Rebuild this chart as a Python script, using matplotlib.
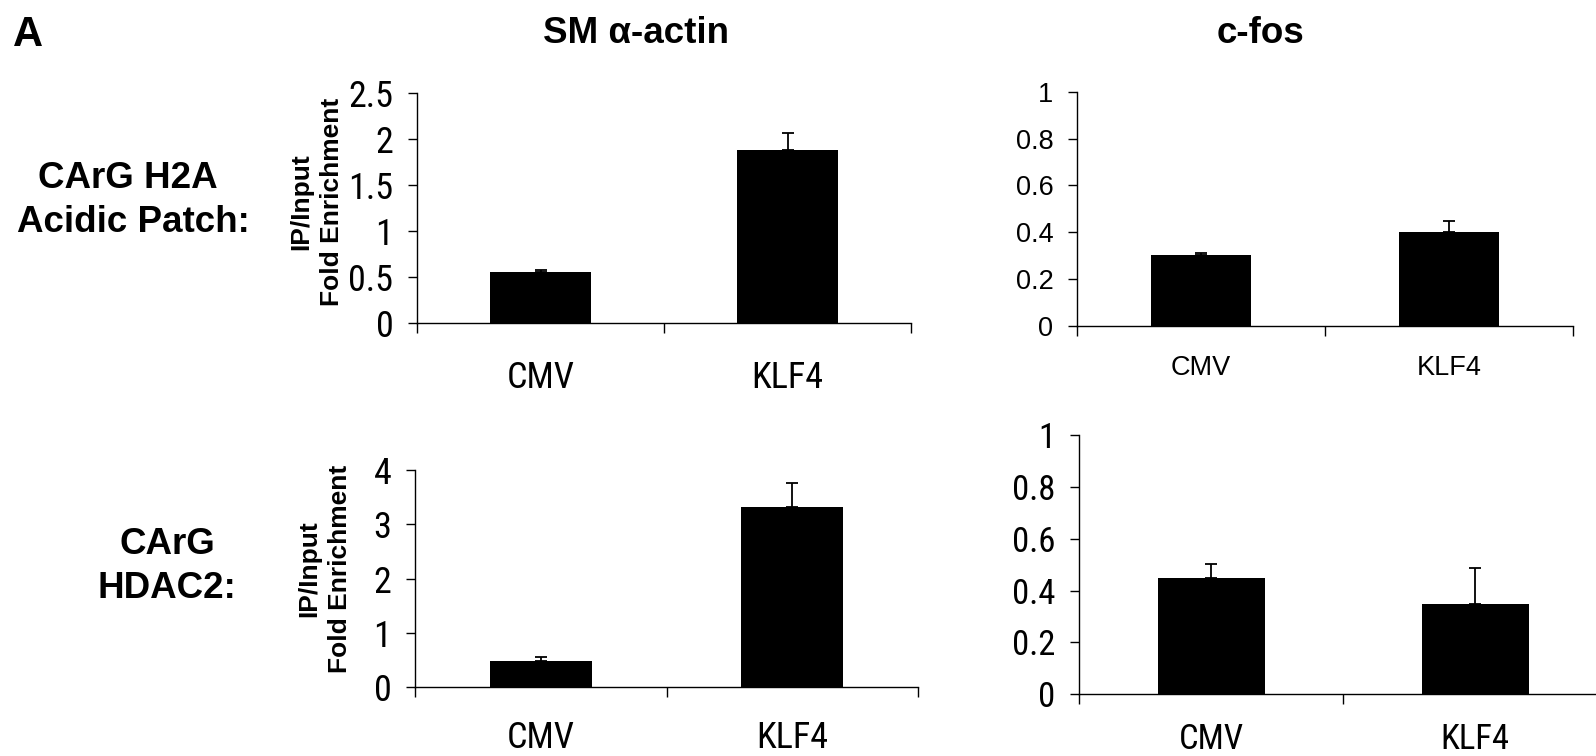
import matplotlib
matplotlib.use("Agg")
import matplotlib.pyplot as plt
from matplotlib import font_manager
import numpy as np

# ---- data -------------------------------------------------------------
groups = ["CMV", "KLF4"]

h2a_sma_mean = [0.55, 1.885]
h2a_sma_err = [0.024, 0.18]
h2a_fos_mean = [0.302, 0.401]
h2a_fos_err = [0.011, 0.048]

hdac2_sma_mean = [0.49, 3.32]
hdac2_sma_err = [0.06, 0.44]
hdac2_fos_mean = [0.447, 0.349]
hdac2_fos_err = [0.054, 0.139]

sma_h2a_ticks = [0, 0.5, 1, 1.5, 2, 2.5]
fos_ticks = [0, 0.2, 0.4, 0.6, 0.8, 1]
sma_hdac2_ticks = [0, 1, 2, 3, 4]

col_titles = ["SM \u03b1-actin", "c-fos"]
row_titles = [["CArG H2A", "Acidic Patch:"], ["CArG", "HDAC2:"]]
ylabel_text = "IP/Input\nFold Enrichment"

# ---- fonts ------------------------------------------------------------
BOLD = ["Liberation Sans", "DejaVu Sans"]
REG = ["Liberation Sans", "DejaVu Sans"]


def find_narrow_family():
    names = sorted({f.name for f in font_manager.fontManager.ttflist})
    for pref in ("Liberation Sans Narrow", "Arial Narrow", "DejaVu Sans Condensed",
                 "Roboto Condensed", "Open Sans Condensed", "Noto Sans Condensed"):
        if pref in names:
            return pref, 1.0
    for n in names:
        low = n.lower()
        if ("narrow" in low or "condensed" in low) and "serif" not in low \
                and "mono" not in low:
            return n, 1.0
    return None, 0.85


_narrow, _narrow_scale = find_narrow_family()
NARROW = ([_narrow] if _narrow else []) + ["Liberation Sans", "DejaVu Sans"]

# ---- figure -----------------------------------------------------------
W, H = 1596, 756
fig = plt.figure(figsize=(W / 100, H / 100), dpi=100)


def axes_px(x0, x1, y0, y1):
    """Create axes from pixel edges (left, right, top, bottom)."""
    return fig.add_axes([x0 / W, 1 - y1 / H, (x1 - x0) / W, (y1 - y0) / H])


def fig_text(x, y, s, **kw):
    fig.text(x / W, 1 - y / H, s, **kw)


def fmt(v):
    return f"{v:g}"


def bar_panel(ax, means, errs, yticks, tick_font, tick_size, xlab_pad):
    x = np.arange(len(groups))
    ax.bar(x, means, width=0.405, color="black", edgecolor="none", zorder=2)
    ax.errorbar(x, means, yerr=[np.zeros(len(errs)), errs], fmt="none",
                ecolor="black", elinewidth=1.3, capsize=4, capthick=1.3,
                zorder=3)
    ax.set_xlim(-0.5, len(groups) - 0.5)
    ax.set_ylim(yticks[0], yticks[-1])
    for side in ("top", "right"):
        ax.spines[side].set_visible(False)
    for side in ("left", "bottom"):
        ax.spines[side].set_linewidth(1.0)
        ax.spines[side].set_color("black")
    ax.set_yticks(yticks)
    ax.set_yticklabels([fmt(t) for t in yticks], family=tick_font,
                       fontsize=tick_size)
    ax.tick_params(axis="y", length=6.5, width=1.0, pad=10.5,
                   direction="out", color="black")
    ax.set_xticks(x)
    ax.set_xticklabels(groups, family=tick_font, fontsize=tick_size)
    ax.set_xticks(np.arange(-0.5, len(groups), 1.0), minor=True)
    ax.tick_params(axis="x", which="major", length=0, pad=xlab_pad)
    ax.tick_params(axis="x", which="minor", length=7, width=1.0,
                   direction="out", color="black")
    ax.patch.set_alpha(0)


nsize = 26 * _narrow_scale

ax_tl = axes_px(417, 911, 93.3, 322.7)
bar_panel(ax_tl, h2a_sma_mean, h2a_sma_err, sma_h2a_ticks, NARROW, nsize, 27)

ax_tr = axes_px(1077, 1573, 91.7, 326)
bar_panel(ax_tr, h2a_fos_mean, h2a_fos_err, fos_ticks, REG, 19.5, 21)

ax_bl = axes_px(415, 918, 470, 687.3)
bar_panel(ax_bl, hdac2_sma_mean, hdac2_sma_err, sma_hdac2_ticks, NARROW, nsize, 23.5)

ax_br = axes_px(1079.3, 1607, 435, 694.3)
bar_panel(ax_br, hdac2_fos_mean, hdac2_fos_err, fos_ticks, NARROW, nsize * 0.96, 21)

# ---- labels -----------------------------------------------------------
fig_text(13, 46, "A", family=BOLD, weight="bold", fontsize=30,
         ha="left", va="baseline")
fig_text(636, 43, col_titles[0], family=BOLD, weight="bold", fontsize=26.5,
         ha="center", va="baseline")
fig_text(1260, 43, col_titles[1], family=BOLD, weight="bold", fontsize=26.5,
         ha="center", va="baseline")

row_lines = [
    [(127.5, 188), (133, 232)],
    [(167, 554), (167, 598)],
]
for lines, pos in zip(row_titles, row_lines):
    for s, (x, y) in zip(lines, pos):
        fig_text(x, y, s, family=BOLD, weight="bold", fontsize=26.5,
                 ha="center", va="baseline")

for (x, y) in [(316.5, 202), (325, 569)]:
    fig_text(x, y, ylabel_text, family=BOLD, weight="bold", fontsize=19,
             rotation=90, ha="center", va="center", multialignment="center",
             linespacing=1.35)

fig.savefig("out.png", dpi=100, facecolor="white")
